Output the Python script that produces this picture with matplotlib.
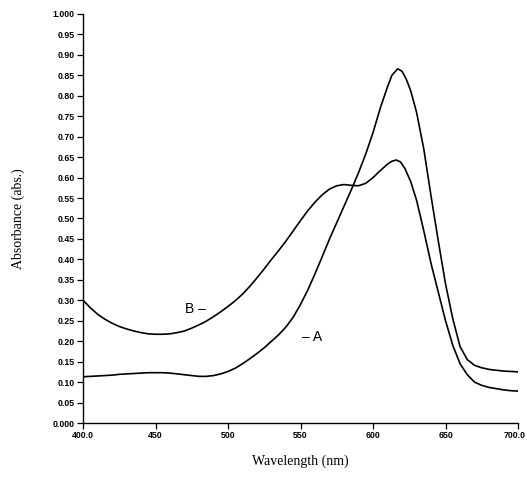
import matplotlib
matplotlib.use("Agg")
import matplotlib.pyplot as plt
import matplotlib.transforms as mtransforms

# Absorption spectra, wavelength in nm
wl_a = [400, 405, 410, 415, 420, 425, 430, 435, 440, 445, 450, 455, 460, 465,
        470, 475, 480, 485, 490, 495, 500, 505, 510, 515, 520, 525, 530, 535,
        540, 545, 550, 555, 560, 565, 570, 575, 580, 585, 590, 595, 600, 605,
        610, 613, 617, 620, 623, 626, 630, 635, 640, 645, 650, 655, 660, 665,
        670, 675, 680, 685, 690, 695, 700]
abs_a = [0.113, 0.114, 0.115, 0.116, 0.117, 0.119, 0.120, 0.121, 0.122, 0.123,
         0.123, 0.123, 0.122, 0.120, 0.118, 0.116, 0.114, 0.114, 0.116, 0.120,
         0.126, 0.134, 0.145, 0.157, 0.170, 0.184, 0.200, 0.216, 0.235, 0.259,
         0.290, 0.325, 0.365, 0.407, 0.450, 0.490, 0.530, 0.570, 0.612, 0.658,
         0.710, 0.770, 0.822, 0.850, 0.866, 0.860, 0.840, 0.812, 0.760, 0.670,
         0.555, 0.445, 0.340, 0.255, 0.187, 0.155, 0.141, 0.135, 0.131, 0.129,
         0.127, 0.126, 0.125]

wl_b = [400, 405, 410, 415, 420, 425, 430, 435, 440, 445, 450, 455, 460, 465,
        470, 475, 480, 485, 490, 495, 500, 505, 510, 515, 520, 525, 530, 535,
        540, 545, 550, 555, 560, 565, 570, 575, 580, 585, 590, 595, 600, 605,
        610, 613, 616, 619, 622, 626, 630, 635, 640, 645, 650, 655, 660, 665,
        670, 675, 680, 685, 690, 695, 700]
abs_b = [0.300, 0.282, 0.266, 0.254, 0.244, 0.236, 0.230, 0.225, 0.221, 0.218,
         0.217, 0.217, 0.218, 0.221, 0.225, 0.232, 0.240, 0.249, 0.260, 0.272,
         0.285, 0.299, 0.315, 0.334, 0.355, 0.377, 0.400, 0.422, 0.445, 0.470,
         0.495, 0.519, 0.540, 0.558, 0.572, 0.580, 0.583, 0.581, 0.580, 0.586,
         0.600, 0.617, 0.633, 0.640, 0.643, 0.638, 0.622, 0.590, 0.545, 0.470,
         0.390, 0.320, 0.250, 0.190, 0.145, 0.118, 0.100, 0.092, 0.087, 0.084,
         0.081, 0.079, 0.078]

x_ticks = [400, 450, 500, 550, 600, 650, 700]
x_labels = ["400.0", "450", "500", "550", "600", "650", "700.0"]
y_ticks = [i * 0.05 for i in range(21)]
y_labels = ["0.000"] + [f"{v:.2f}" for v in y_ticks[1:-1]] + ["1.000"]

fig = plt.figure(figsize=(5.27, 4.82), dpi=100)
ax = fig.add_axes([0.1575, 0.1224, 0.8255, 0.8486])

for wl, ab in ((wl_a, abs_a), (wl_b, abs_b)):
    ax.plot(wl, ab, color="black", lw=1.2, solid_joinstyle="round",
            solid_capstyle="round")

ax.text(470, 0.279, "B \u2013", fontsize=10, family="Liberation Sans",
        va="center", ha="left")
ax.text(551, 0.210, "\u2013 A", fontsize=10, family="Liberation Sans",
        va="center", ha="left")

ax.set_xlim(400, 700)
ax.set_ylim(0, 1.0)
ax.set_xticks(x_ticks)
ax.set_xticklabels(x_labels)
ax.set_yticks(y_ticks)
ax.set_yticklabels(y_labels)

for s in ("top", "right"):
    ax.spines[s].set_visible(False)
for s in ("left", "bottom"):
    ax.spines[s].set_linewidth(1.0)

ax.tick_params(direction="out", length=4, width=0.9, pad=2)
for lab in ax.get_xticklabels() + ax.get_yticklabels():
    lab.set_fontsize(6.3)
    lab.set_fontweight("bold")
    lab.set_family("Liberation Sans")

# keep the last wavelength label inside the figure edge
last = ax.get_xticklabels()[-1]
last.set_horizontalalignment("right")
last.set_transform(last.get_transform() +
                   mtransforms.ScaledTranslation(8 / 100, 0, fig.dpi_scale_trans))

ax.set_xlabel("Wavelength (nm)", fontsize=10, family="Liberation Serif",
              labelpad=10)
ax.set_ylabel("Absorbance (abs.)", fontsize=10, family="Liberation Serif",
              labelpad=20)

fig.savefig("out.png", dpi=100)
